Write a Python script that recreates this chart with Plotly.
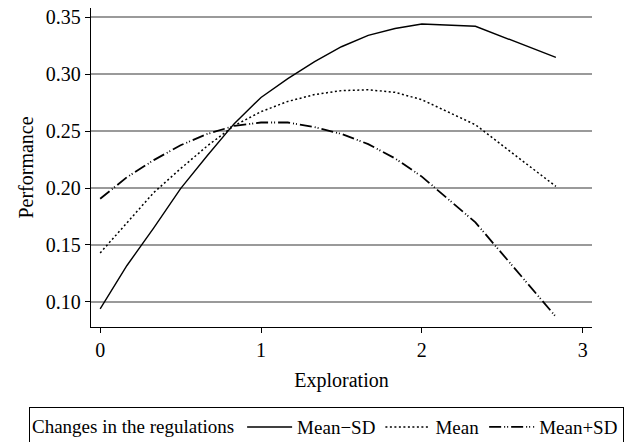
import plotly.graph_objects as go

exploration = [0, 1/6, 2/6, 0.5, 4/6, 5/6, 1, 7/6, 8/6, 1.5, 10/6, 11/6, 2, 7/3, 17/6]
mean_minus_sd = [0.094, 0.132, 0.165, 0.1995, 0.2285, 0.2565, 0.2795, 0.296, 0.311, 0.324, 0.334, 0.340, 0.344, 0.342, 0.3146]
mean_vals = [0.143, 0.170, 0.196, 0.217, 0.237, 0.2547, 0.267, 0.276, 0.282, 0.2855, 0.2862, 0.284, 0.2775, 0.2555, 0.2014]
mean_plus_sd = [0.1906, 0.2095, 0.2245, 0.2375, 0.2475, 0.2545, 0.2575, 0.2575, 0.2535, 0.2475, 0.2385, 0.226, 0.210, 0.1698, 0.087]

series_names = ["Mean\u2212SD", "Mean", "Mean+SD"]
y_ticks = [0.10, 0.15, 0.20, 0.25, 0.30, 0.35]
x_ticks = [0, 1, 2, 3]

FONT = "Liberation Serif"
AX = 20
LG = 19

fig = go.Figure()
fig.add_trace(go.Scatter(x=exploration, y=mean_minus_sd, mode="lines", name=series_names[0],
                         line=dict(color="black", width=1.4, dash="solid")))
fig.add_trace(go.Scatter(x=exploration, y=mean_vals, mode="lines", name=series_names[1],
                         line=dict(color="black", width=1.5, dash="2px,2.5px")))
fig.add_trace(go.Scatter(x=exploration, y=mean_plus_sd, mode="lines", name=series_names[2],
                         line=dict(color="black", width=1.8, dash="12px,3px,1px,2px,1px,3px")))

fig.update_layout(
    width=634, height=442,
    margin=dict(l=91, r=42, t=8, b=115, autoexpand=False),
    paper_bgcolor="white", plot_bgcolor="white",
    font=dict(family=FONT, size=AX, color="black"),
    showlegend=True,
    legend=dict(
        orientation="h", xref="container", yref="container",
        x=0.515, xanchor="center", y=0.079, yanchor="top",
        title=dict(text="Changes in the regulations", side="left", font=dict(family=FONT, size=LG)),
        bordercolor="black", borderwidth=1, bgcolor="white",
        font=dict(family=FONT, size=LG), itemwidth=45,
    ),
    xaxis=dict(
        range=[-0.057, 3.058], tickvals=x_ticks, ticktext=[str(v) for v in x_ticks],
        showgrid=False, zeroline=False, showline=True, linecolor="black", linewidth=1.3,
        ticks="outside", ticklen=5, tickwidth=1.3, tickcolor="black", automargin=False,
        title=dict(text="Exploration", font=dict(family=FONT, size=AX), standoff=12),
        tickfont=dict(family=FONT, size=AX),
    ),
    yaxis=dict(
        range=[0.078, 0.358], tickvals=y_ticks, ticktext=[f"{v:.2f}" for v in y_ticks],
        showgrid=True, gridcolor="#9a9a9a", gridwidth=2, zeroline=False,
        showline=True, linecolor="black", linewidth=1.3, automargin=False,
        ticks="outside", ticklen=5, tickwidth=1.3, tickcolor="black",
        title=dict(text="Performance", font=dict(family=FONT, size=AX), standoff=6),
        tickfont=dict(family=FONT, size=AX),
    ),
)

fig.write_html("out.html", config={"displayModeBar": False},
               post_script="document.body.style.margin='0';")
